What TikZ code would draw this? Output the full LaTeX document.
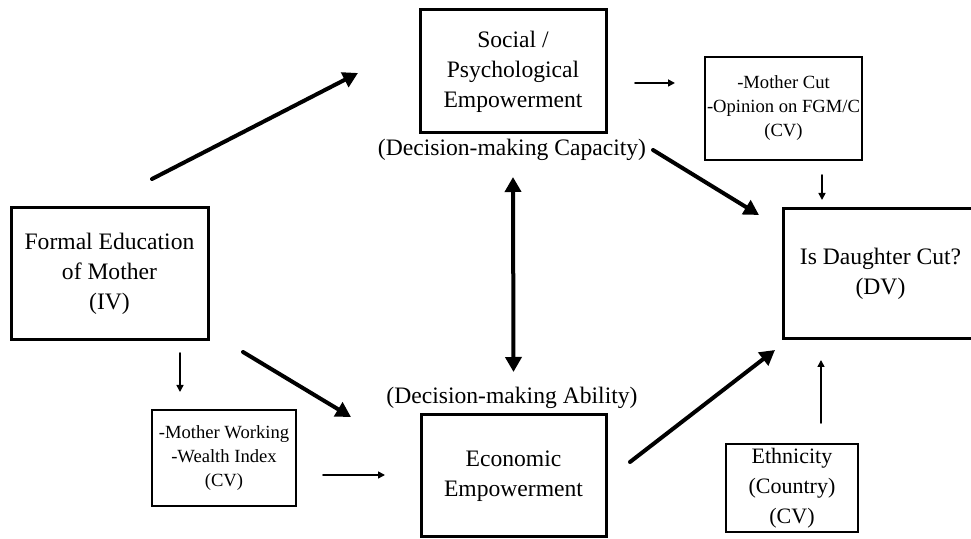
\documentclass[tikz,border=0pt]{standalone}
\usepackage{fontspec}
\setmainfont{Liberation Serif}
\usetikzlibrary{arrows.meta,calc}

\begin{document}
\begin{tikzpicture}
		[x=0.5pt,y=-0.5pt,line cap=round,
		%Styles
		main box/.style={draw,line width=1.5pt,align=center,inner sep=0pt,outer sep=0pt,font=\fontsize{11.8}{15}\selectfont},
		cv box/.style={draw,line width=1pt,align=center,inner sep=0pt,outer sep=0pt,font=\fontsize{9.3}{12}\selectfont},
		note text/.style={inner sep=0pt,outer sep=0pt,font=\fontsize{11.8}{15}\selectfont},
		big arrow/.style={-{Triangle[length=7.5pt,width=8pt]},line width=2pt},
		small arrow/.style={-{Triangle[length=3.5pt,width=3.5pt]},line width=0.8pt}
		]
		
		\useasboundingbox (0,0) rectangle (971,539);
		
		%The boxes
		\node[main box,minimum width=98.5pt,minimum height=66pt] (edu) at (109.5,274) {Formal Education\\ of Mother\\ (IV)};
		\node[main box,minimum width=93pt,minimum height=61.5pt] (social) at (513,71.5) {Social /\\ Psychological\\ Empowerment};
		\node[main box,minimum width=92.5pt,minimum height=61pt] (econ) at (513.5,476) {Economic\\ Empowerment};
		\node[main box,minimum width=97.5pt,minimum height=65pt] (daughter) at (880.5,274) {Is Daughter Cut?\\ (DV)};
		\node[cv box,minimum width=78.5pt,minimum height=51.5pt] (cut) at (783.5,108.5) {-Mother Cut\\ -Opinion on FGM/C\\ (CV)};
		\node[cv box,minimum width=72pt,minimum height=48pt] (work) at (224,458) {-Mother Working\\ -Wealth Index\\ (CV)};
		\node[cv box,font=\fontsize{11}{15}\selectfont,minimum width=66pt,minimum height=44pt] (eth) at (792,488) {Ethnicity\\ (Country)\\ (CV)};
		
		\node[note text] (capacity) at (512,150) {(Decision-making Capacity)};
		\node[note text] (ability) at (512,398) {(Decision-making Ability)};
		
		%The arrows
		\draw[big arrow] ($(edu.north)+(42.5,-29)$) -- ($(social.west)+(-62,1.5)$);
		\draw[big arrow] ($(edu.south)+(133.5,12)$) -- ($(econ.west)+(-70,-59)$);
		\draw[small arrow] ($(edu.south)+(70.5,13)$) -- ($(work.north)+(-44,-18)$);
		\draw[small arrow] ($(work.east)+(27,17)$) -- ($(econ.west)+(-36,-1)$);
		\draw[big arrow,{Triangle[length=7.5pt,width=8pt]}-{Triangle[length=7.5pt,width=8pt]}] ($(social.south)+(0,44)$) -- ($(econ.north)+(0,-43)$);
		\draw[small arrow] ($(social.east)+(29,11.5)$) -- ($(cut.west)+(-30,-25.5)$);
		\draw[big arrow] ($(capacity.east)+(7,0)$) -- ($(daughter.north west)+(-24,6)$);
		\draw[big arrow] ($(econ.east)+(24,-14)$) -- ($(daughter.south west)+(-8,11)$);
		\draw[small arrow] ($(cut.south)+(38.5,15)$) -- ($(daughter.north west)+(39,-9)$);
		\draw[small arrow] ($(eth.north)+(29,-21)$) -- ($(daughter.south west)+(38,21)$);
	\end{tikzpicture}
\end{document}
